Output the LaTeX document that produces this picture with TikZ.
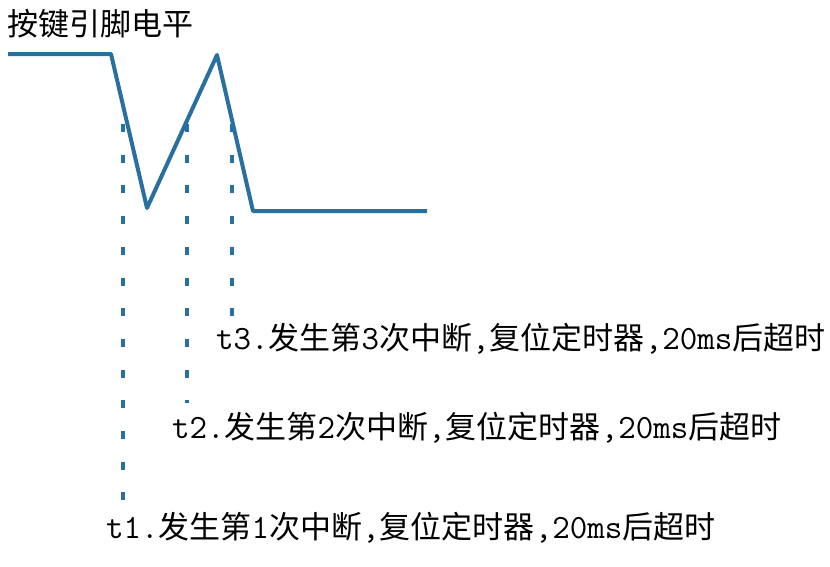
\documentclass[tikz,border=0pt]{standalone}
\usepackage{fontspec}
\setmainfont{Noto Sans CJK SC}
\definecolor{pinblue}{RGB}{40,112,160}
\newcommand\lat{\ttfamily\fontsize{34}{31}\selectfont}
\newcommand\irqtext[1]{{\lat t#1.}发生第{\lat #1}次中断{\lat ,}复位定时器{\lat ,20ms}后超时}

\begin{document}
\begin{tikzpicture}[
  x=1pt, y=-1pt,
  wave/.style={draw=pinblue, line width=4pt, line join=round},
  guide/.style={draw=pinblue, line width=4pt, dash pattern=on 8pt off 22.7pt},
  note/.style={anchor=base west, inner sep=0pt, font=\fontsize{31}{31}\selectfont}
]
\useasboundingbox (0,0) rectangle (830,566);

\node[note] (title) at (7,35) {按键引脚电平};

% pin level
\coordinate (hi) at (8,54);
\coordinate (fall) at (111,54);
\coordinate (low1) at (147,208);
\coordinate (peak) at (217,55);
\coordinate (low2) at (253,211);
\coordinate (tail) at (427,211);
\draw[wave] (hi) -- (fall) -- (low1) -- (peak) -- (low2) -- (tail);

% interrupts
\foreach \i/\x/\yend/\tx/\ty in {1/123/501/106/538, 2/187/403/172/438, 3/232/317/216/349} {
  \coordinate (g\i) at (\x,124);
  \coordinate (e\i) at (\x,\yend);
  \draw[guide] (g\i) -- (e\i);
  \node[note] (note\i) at (\tx,\ty) {\irqtext{\i}};
}

\end{tikzpicture}
\end{document}
